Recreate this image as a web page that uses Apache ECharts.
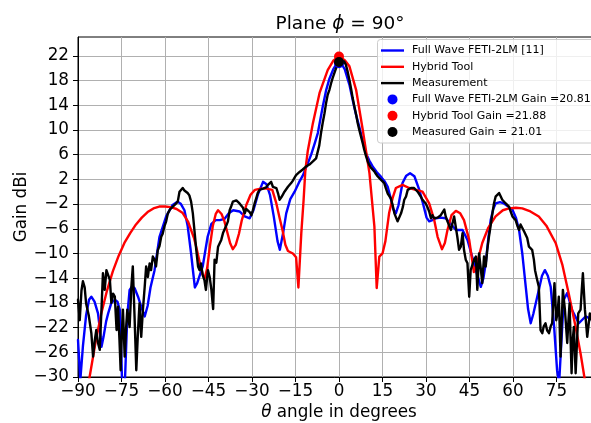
<!DOCTYPE html>
<html>
<head>
<meta charset="utf-8">
<script src="https://cdn.jsdelivr.net/npm/echarts@6/dist/echarts.min.js"></script>
<style>
  html, body { margin: 0; padding: 0; background: #fff; }
  #chart { width: 591px; height: 423px; }
</style>
</head>
<body>
<div id="chart"></div>
<script>
// Radiation pattern cut, plane phi = 90 deg: gain (dBi) versus theta (deg)

const xTicks = [-90, -75, -60, -45, -30, -15, 0, 15, 30, 45, 60, 75, 90];
const yTicks = [-30, -26, -22, -18, -14, -10, -6, -2, 2, 6, 10, 14, 18, 22];

// Full Wave FETI-2LM [11]
const fullWaveTheta = [-90, -89.2, -88.3, -87.2, -86.2, -85.4, -84.3, -83.1, -82.4, -81.9, -81.2, -80.3, -79.6, -78.5, -77.3, -76.4, -75.6, -75.2, -74.8, -73.8, -73.0, -72.2, -71.3, -70.5, -69.3, -68.2, -67.0, -66.0, -65.0, -63.6, -61.9, -59.6, -57.5, -55.6, -54.5, -53.3, -52.2, -51.0, -50.3, -49.7, -48.9, -47.0, -45.3, -44.0, -42.5, -41.1, -39.5, -38.0, -36.5, -34.3, -32.5, -30.8, -29.5, -28.0, -26.2, -25.0, -23.8, -22.5, -21.2, -20.4, -19.2, -18.2, -16.8, -15.3, -13.8, -12.5, -11.0, -9.6, -8.4, -7.3, -5.6, -4.4, -3.3, -2.0, -1.0, 0, 1.0, 2.0, 3.6, 4.7, 5.8, 7.0, 8.2, 9.3, 10.5, 11.6, 13.0, 14.5, 15.7, 16.8, 17.8, 18.7, 19.6, 20.5, 21.9, 23.2, 24.5, 26.0, 27.7, 29.0, 30.2, 31.1, 32.2, 33.4, 35.0, 36.8, 38.5, 40.3, 42.6, 44.3, 45.5, 47.2, 48.9, 49.8, 50.6, 51.5, 52.3, 53.2, 54.0, 55.5, 56.9, 59.8, 61.0, 62.1, 63.2, 64.4, 65.2, 66.1, 67.0, 68.9, 70.0, 71.0, 72.0, 73.0, 74.2, 75.2, 75.9, 76.6, 77.5, 78.7, 80.4, 82.7, 85.0, 86.5, 88.0, 90.0];
const fullWaveGain = [-24, -30.5, -25, -20, -17.5, -17.0, -17.8, -19.7, -22.5, -25.1, -23.5, -21, -19.7, -18, -17.5, -17.8, -19.1, -24, -31, -30.5, -20, -15.9, -15.3, -15.6, -17, -18.6, -20.2, -18.5, -15.5, -12.7, -7.3, -4.0, -2.2, -1.6, -2.0, -3.0, -5.5, -10.0, -13, -15.5, -14.8, -12.1, -7.3, -5.2, -4.6, -4.6, -4.4, -3.5, -3.0, -3.2, -4.0, -4.3, -3.0, -0.5, 1.6, 1.2, -0.5, -4, -8, -9.4, -6.5, -3.5, -1.2, 0, 1.5, 2.6, 4.3, 6.0, 7.8, 9.5, 13.8, 16.5, 18.3, 19.8, 20.6, 20.81, 20.6, 19.8, 17.3, 14.9, 12.6, 10.5, 8.2, 6.2, 5.0, 4.1, 3.2, 2.4, 1.7, 0.8, -1, -2.8, -3.5, -2.2, 1.4, 2.6, 3.0, 2.5, 0.3, -2, -4.2, -4.8, -4.6, -4.3, -4.2, -4.3, -5.2, -6.2, -6.2, -7.8, -9.8, -12.7, -15.4, -14, -11.6, -7.5, -4.6, -2.8, -1.9, -1.7, -1.9, -2.9, -4.2, -6.2, -10, -15.4, -19, -21.3, -19.8, -15.9, -13.6, -12.7, -13.6, -15.4, -22, -28.9, -31, -25, -17.5, -16.4, -19.2, -21.3, -20.2, -20.5, -21, -22];

// Hybrid Tool
const hybridTheta = [-90, -88, -86, -84, -82, -80, -78, -76, -74, -72, -70, -68, -66, -64, -62, -60, -58, -56, -54, -52, -50, -49, -48, -47, -46.3, -45.5, -44.5, -43.5, -42.5, -41.7, -40.5, -39.5, -38.5, -37.5, -36.6, -35.6, -34.5, -33.5, -32, -30.5, -29, -27, -25, -23, -21.6, -20.5, -19.4, -18.5, -17.6, -15.9, -14.8, -14.0, -13.0, -12.2, -11.6, -10.8, -9.0, -6.7, -3.9, -2.0, 0, 2.0, 3.6, 5.9, 8.2, 10.5, 12.2, 13.0, 13.9, 15.0, 16.0, 17.3, 18.5, 19.6, 21.9, 24.2, 26.5, 28.8, 31.1, 32.8, 34.0, 35.5, 36.5, 37.4, 38.8, 40.3, 41.8, 43.1, 44.9, 46.5, 47.5, 49.4, 51.5, 54.0, 56.5, 58.6, 61.0, 63.2, 66.0, 68.9, 71.5, 74.7, 77.0, 79.3, 81.6, 83.3, 84.4, 86.0, 88.0, 90.0];
const hybridGain = [-44, -36.5, -30, -24.5, -19.8, -16, -12.9, -10.4, -8.3, -6.7, -5.3, -4.2, -3.3, -2.7, -2.4, -2.4, -2.5, -2.8, -3.4, -4.9, -7.5, -9.4, -11.5, -13.4, -14, -12.5, -8.8, -5.5, -3.6, -3.0, -3.6, -4.8, -6.6, -8.4, -9.3, -8.6, -6.8, -4.6, -2.2, -0.5, 0.3, 0.5, 0.5, 0.3, -1.9, -4.2, -6.4, -8.6, -9.6, -10.0, -10.6, -15.5, -6.7, -1.3, 3.5, 6.5, 11.1, 16.0, 19.7, 21.2, 21.88, 21.3, 20.3, 16.5, 10.0, 3.0, -5.6, -15.6, -10.5, -10.0, -8.0, -3.4, -1.0, 0.6, 1.1, 0.6, 0.3, 0.0, -1.9, -4.5, -7.3, -9.3, -8.3, -6.2, -3.8, -3.1, -3.5, -4.6, -7.8, -13.0, -11.8, -8.3, -5.8, -4.0, -3.0, -2.7, -2.6, -2.7, -3.2, -4.0, -5.5, -8.3, -11.8, -16.7, -21.9, -26.2, -29.4, -34, -40, -46];

// Measurement
const measuredTheta = [-90, -89.4, -88.8, -88.3, -87.7, -87.2, -86.3, -85.4, -84.8, -84.2, -83.7, -83.1, -82.5, -81.9, -81.4, -80.8, -80.2, -79.6, -79.0, -78.5, -77.9, -77.3, -76.7, -76.2, -75.7, -75.3, -74.9, -74.5, -73.9, -73.4, -73.0, -72.2, -71.6, -71.1, -70.5, -69.9, -69.4, -68.8, -68.2, -67.6, -67.0, -66.5, -65.9, -65.3, -64.8, -64.2, -63.6, -63.1, -62.5, -61.9, -61.3, -60.8, -60.2, -59.6, -59.0, -58.2, -57.3, -56.4, -55.6, -55.0, -54.4, -53.9, -53.3, -52.7, -52.2, -51.6, -51.0, -50.4, -49.8, -49.2, -48.6, -48.1, -47.6, -47.0, -46.4, -45.9, -45.2, -44.6, -44.0, -43.4, -42.9, -42.3, -41.7, -41.1, -40.6, -40.0, -39.4, -38.8, -38.3, -37.7, -37.2, -36.6, -36.0, -35.4, -34.8, -34.3, -33.7, -33.1, -32.5, -32.0, -31.4, -30.8, -30.2, -29.7, -29.1, -28.5, -28.0, -27.4, -26.8, -26.2, -25.7, -25.1, -24.5, -24.0, -23.4, -22.8, -22.2, -21.6, -21.0, -20.5, -19.9, -19.4, -18.8, -18.2, -17.6, -17.1, -16.5, -15.9, -15.3, -14.8, -14.2, -13.6, -13.0, -12.5, -11.9, -11.3, -10.7, -10.2, -9.6, -9.0, -8.4, -7.9, -7.3, -6.8, -6.2, -5.6, -5.0, -4.4, -3.9, -3.3, -2.7, -2.2, -1.6, -1.0, -0.5, 0.1, 0.7, 1.3, 1.8, 2.4, 3.0, 3.6, 4.2, 4.7, 5.3, 5.9, 6.4, 7.0, 7.6, 8.2, 8.7, 9.3, 9.9, 10.5, 11.0, 11.6, 12.2, 12.7, 13.3, 13.9, 14.5, 15.0, 15.6, 16.2, 16.8, 17.3, 17.9, 18.5, 19.1, 19.6, 20.2, 20.8, 21.4, 22.0, 22.5, 23.1, 23.7, 24.2, 24.8, 25.4, 25.9, 26.5, 27.1, 27.7, 28.2, 28.8, 29.4, 29.9, 30.5, 31.1, 31.7, 32.2, 32.8, 33.4, 34.0, 34.5, 35.1, 35.7, 36.3, 36.8, 37.4, 38.0, 38.6, 39.1, 39.7, 40.3, 40.8, 41.4, 42.0, 42.6, 43.1, 43.7, 44.3, 44.9, 45.4, 46.0, 46.6, 47.2, 47.7, 48.3, 48.9, 49.4, 50.0, 50.6, 51.1, 51.7, 52.3, 52.9, 53.4, 54.0, 54.6, 55.2, 55.7, 56.3, 56.9, 57.5, 58.0, 58.6, 59.2, 59.8, 60.3, 60.9, 61.5, 62.1, 62.6, 63.2, 63.8, 64.4, 64.9, 65.5, 66.1, 66.6, 67.2, 67.6, 68.2, 68.9, 69.5, 70.1, 70.6, 71.2, 71.8, 72.4, 73.0, 73.5, 74.0, 74.3, 74.9, 75.4, 75.8, 76.4, 76.8, 77.2, 77.9, 78.7, 79.1, 79.5, 80.2, 80.6, 81.0, 81.6, 82.1, 82.5, 83.3, 83.7, 84.1, 84.8, 85.6, 86.5, 87.3, 88.0, 89.0, 90.0];
const measuredGain = [-17.5, -20.8, -16, -14.5, -15.5, -18.1, -20, -22.9, -26.7, -24, -22.4, -24.5, -25.6, -19, -13.2, -15.9, -12.7, -13.5, -14.3, -18.0, -16.5, -17.0, -22.4, -18.6, -24, -28.9, -23, -19.1, -26.7, -22, -19.1, -21.9, -15.4, -12.1, -20.2, -28.9, -23.5, -18.1, -23.5, -19, -15.4, -12.1, -13.8, -11.6, -12.7, -10.5, -11, -12.1, -9.5, -8.8, -7.3, -6.8, -5.6, -4.8, -3.5, -2.8, -2.4, -2.0, -1.6, 0.0, 0.3, 0.6, 0.2, 0.3, -0.2, -0.6, -1.6, -3.5, -6.5, -9.5, -12.1, -12.7, -11.6, -13.5, -14.3, -15.9, -12.7, -13.8, -15.9, -19.0, -11.0, -11.5, -8.9, -8.3, -7.8, -6.7, -6.9, -5.4, -4.8, -3.0, -2.4, -1.6, -1.9, -1.4, -1.6, -1.9, -2.1, -2.6, -3.5, -2.8, -2.7, -3.3, -3.8, -3.0, -1.9, -1.0, -0.2, 0.3, 0.6, 0.5, 0.3, 0.7, 1.1, 1.2, 1.6, 0.8, 0.7, 0.6, -0.3, -1.3, -0.9, -0.5, 0.0, 0.3, 0.8, 1.0, 1.4, 1.8, 2.3, 2.7, 2.8, 3.2, 3.5, 3.6, 3.9, 4.1, 4.3, 4.4, 4.7, 4.9, 5.2, 5.4, 5.7, 7.5, 9.5, 11.2, 12.7, 14.5, 15.7, 16.5, 17.6, 18.4, 19.2, 20.0, 20.5, 20.8, 21.1, 21.4, 21.1, 20.5, 19.4, 18.1, 16.6, 15.2, 13.8, 12.5, 11.2, 10.0, 8.9, 7.8, 6.8, 5.8, 4.9, 4.3, 3.9, 3.6, 3.3, 2.9, 2.5, 2.2, 1.9, 1.8, 1.4, 0.5, -0.3, -0.5, -1.1, -2.2, -3.5, -3.5, -4.8, -5.1, -3.5, -2.5, -1.3, -0.8, 0.3, 0.3, 0.6, 0.8, 0.6, 0.5, 0.0, -0.2, -0.8, -1.3, -1.3, -1.9, -2.5, -3.2, -4.3, -3.8, -4.3, -4.5, -4.2, -4.0, -3.8, -3.5, -2.9, -4.0, -4.8, -5.1, -6.2, -5.2, -4.0, -5.8, -7.3, -9.4, -8.9, -6.7, -9.4, -11.0, -11.6, -17.0, -12.7, -12.7, -11.0, -10.5, -15.9, -10.0, -12.5, -14.8, -10.5, -12.1, -9.5, -7.3, -5.5, -3.5, -2.0, -0.8, -0.5, -0.2, -0.7, -1.3, -1.5, -1.9, -2.0, -2.4, -3.2, -4.0, -4.2, -4.6, -5.5, -6.2, -5.3, -5.6, -6.4, -6.7, -7.5, -8.9, -9.0, -9.4, -11.0, -12.7, -14, -15.4, -22.4, -22.9, -21.8, -21.3, -22.5, -22.9, -21.8, -21.3, -17, -14.8, -20.8, -19.5, -17.0, -26.7, -21, -15.9, -19.1, -24.5, -21, -18.1, -29.4, -24, -21.9, -29.4, -24, -19.7, -19.1, -16, -13.2, -19.1, -23.5, -19.7, -21, -24, -20, -22];

// Peak gains at broadside
const peakLabels = ['Full Wave FETI-2LM Gain =20.81', 'Hybrid Tool Gain =21.88', 'Measured Gain = 21.01'];
const peakTheta = [0, 0, 0];
const peakGain = [20.81, 21.88, 21.01];

const lineNames = ['Full Wave FETI-2LM [11]', 'Hybrid Tool', 'Measurement'];
const colors = ['#0000ff', '#ff0000', '#000000'];

const FONT = '"DejaVu Sans", sans-serif';
const AXIS_FS = 16.8;
const zip = (xs, ys) => xs.map((x, i) => [x, ys[i]]);
const minusFmt = v => (v < 0 ? '\u2212' + Math.abs(v) : String(v));

const chart = echarts.init(document.getElementById('chart'), null, { renderer: 'canvas' });

const lineSeries = [
  [fullWaveTheta, fullWaveGain],
  [hybridTheta, hybridGain],
  [measuredTheta, measuredGain]
].map((d, i) => ({
  name: lineNames[i],
  type: 'line',
  data: zip(d[0], d[1]),
  symbol: 'none',
  clip: true,
  z: 2 + i,
  lineStyle: { color: colors[i], width: 2.4, join: 'round', cap: 'round' },
  emphasis: { disabled: true }
}));

const peakSeries = peakLabels.map((name, i) => ({
  name: name,
  type: 'scatter',
  data: [[peakTheta[i], peakGain[i]]],
  symbol: 'circle',
  symbolSize: 10,
  z: 6 + i,
  itemStyle: { color: colors[i], opacity: 1 },
  emphasis: { disabled: true }
}));

// Legend panel
const legendX = 377.5, legendY = 39.5, rowH = 16.3, row0 = 50.5;
const legendItems = [];
legendItems.push({
  type: 'rect', shape: { x: legendX, y: legendY, width: 240, height: 103.5, r: 3 },
  style: { fill: 'rgba(255,255,255,0.8)', stroke: '#cccccc', lineWidth: 1 }, z: 20
});
lineNames.concat(peakLabels).forEach((label, i) => {
  const cy = row0 + i * rowH;
  if (i < 3) {
    legendItems.push({
      type: 'line', shape: { x1: 381, y1: cy, x2: 404, y2: cy },
      style: { stroke: colors[i], lineWidth: 2.4 }, z: 21
    });
  } else {
    legendItems.push({
      type: 'circle', shape: { cx: 392.5, cy: cy, r: 5 },
      style: { fill: colors[i - 3] }, z: 21
    });
  }
  legendItems.push({
    type: 'text', x: 412, y: cy,
    style: { text: label, fill: '#000', font: '11px ' + FONT, textVerticalAlign: 'middle', textAlign: 'left' },
    z: 21
  });
});

chart.setOption({
  animation: false,
  backgroundColor: '#ffffff',
  title: {
    text: 'Plane {i|ϕ} = 90°',
    left: 335,
    top: 10,
    textAlign: 'center',
    textStyle: {
      fontFamily: FONT, fontSize: 18.5, fontWeight: 'normal', color: '#000',
      rich: { i: { fontFamily: FONT, fontSize: 18.5, fontStyle: 'italic', color: '#000' } }
    }
  },
  grid: {
    left: 78, top: 37, right: -9, bottom: 46,
    containLabel: false, outerBoundsMode: 'none',
    show: true, borderColor: '#000', borderWidth: 1, backgroundColor: 'transparent'
  },
  xAxis: {
    type: 'value', min: -90, max: 90, interval: 15,
    name: '{i|θ} angle in degrees', nameLocation: 'middle', nameGap: 27, nameMoveOverlap: false,
    nameTextStyle: { fontFamily: FONT, fontSize: AXIS_FS, color: '#000', rich: { i: { fontFamily: FONT, fontSize: AXIS_FS, fontStyle: 'italic', color: '#000' } } },
    axisLine: { onZero: false, lineStyle: { color: '#000', width: 1 } },
    axisTick: { show: true, inside: false, length: 5, lineStyle: { color: '#000', width: 1 } },
    axisLabel: { fontFamily: FONT, fontSize: AXIS_FS, color: '#000', margin: 6, showMaxLabel: false, formatter: minusFmt },
    splitLine: { show: true, lineStyle: { color: '#b0b0b0', width: 1 } }
  },
  yAxis: {
    type: 'value', min: -30, max: 25.05, interval: 4,
    name: 'Gain dBi', nameLocation: 'middle', nameGap: 48, nameRotate: 90, nameMoveOverlap: false,
    nameTextStyle: { fontFamily: FONT, fontSize: AXIS_FS, color: '#000' },
    axisLine: { onZero: false, lineStyle: { color: '#000', width: 1 } },
    axisTick: { show: true, inside: false, length: 5, lineStyle: { color: '#000', width: 1 }, customValues: yTicks },
    axisLabel: { fontFamily: FONT, fontSize: AXIS_FS, color: '#000', margin: 9, customValues: yTicks, formatter: minusFmt },
    splitLine: { show: true, lineStyle: { color: '#b0b0b0', width: 1 } }
  },
  series: lineSeries.concat(peakSeries),
  graphic: legendItems
});
</script>
</body>
</html>
